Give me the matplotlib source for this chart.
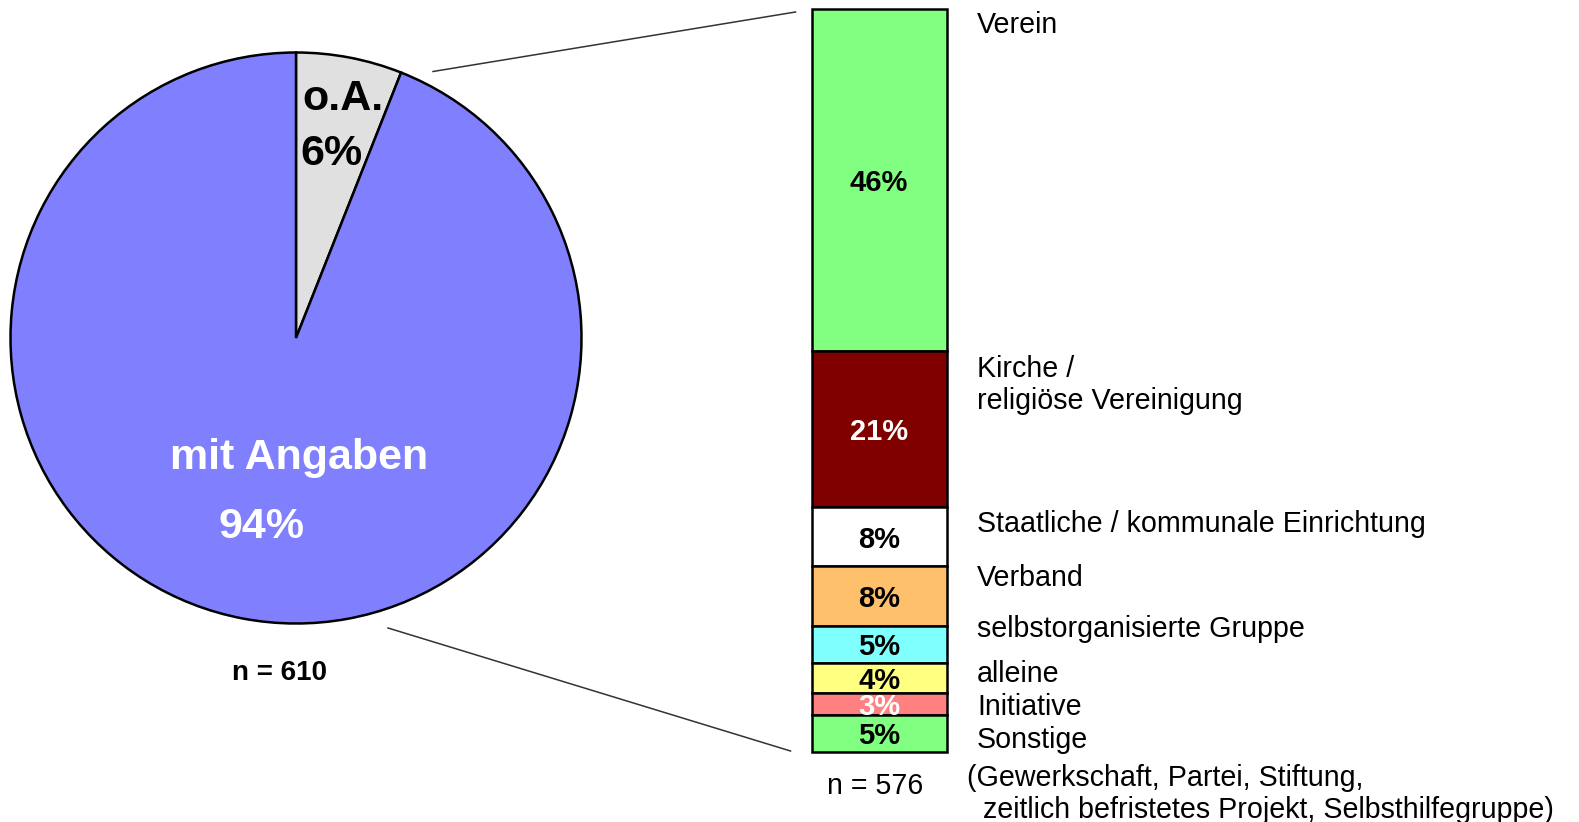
import matplotlib
matplotlib.use("Agg")
import matplotlib.pyplot as plt
import numpy as np

plt.rcParams['font.family'] = ['Liberation Sans', 'DejaVu Sans']

# Pie data
pie_labels = ["o.A.", "mit Angaben"]
pie_values = [6, 94]
pie_colors = ["#E0E0E0", "#8080FF"]

# Stacked bar data
bar_categories = ["Verein", "Kirche /\nreligiöse Vereinigung",
                  "Staatliche / kommunale Einrichtung", "Verband",
                  "selbstorganisierte Gruppe", "alleine", "Initiative", "Sonstige"]
bar_values = [46, 21, 8, 8, 5, 4, 3, 5]
bar_colors = ["#80FF80", "#800000", "#FFFFFF", "#FFC06C",
              "#80FFFF", "#FFFF80", "#FF8080", "#80FF80"]
bar_text_colors = ["black", "white", "black", "black", "black", "black", "white", "black"]
sonstige_note = "(Gewerkschaft, Partei, Stiftung,\n  zeitlich befristetes Projekt, Selbsthilfegruppe)"
n_pie = "n = 610"
n_bar = "n = 576"

W, H = 1579, 822
fig = plt.figure(figsize=(W / 100, H / 100), dpi=100)
ax = fig.add_axes([0, 0, 1, 1])

cx, cy, r = 296, 338, 285.5
ax.pie(pie_values, colors=pie_colors, startangle=-90, counterclock=True,
       center=(cx, cy), radius=r,
       wedgeprops=dict(edgecolor="black", linewidth=1.8))
ax.set_xlim(0, W)
ax.set_ylim(H, 0)
ax.set_aspect("auto")
ax.axis("off")

ax.text(343, 99, pie_labels[0], fontsize=31, fontweight="bold", ha="center", va="center")
ax.text(331, 154, f"{pie_values[0]}%", fontsize=31, fontweight="bold", ha="center", va="center")
ax.text(299, 458, pie_labels[1], fontsize=31, fontweight="bold", ha="center", va="center", color="white")
ax.text(261, 527, f"{pie_values[1]}%", fontsize=31, fontweight="bold", ha="center", va="center", color="white")
ax.text(279, 673, n_pie, fontsize=20, fontweight="bold", ha="center", va="center")

# connector lines
ax.plot([433, 795.5], [71.5, 12], color="#333333", lw=1.1)
ax.plot([388, 790.5], [628, 751], color="#333333", lw=1.1)

# Bar axes
bx0, bx1, by0, by1 = 811.6, 946.6, 9, 752
ax2 = fig.add_axes([bx0 / W, (H - by1) / H, (bx1 - bx0) / W, (by1 - by0) / H])
ax2.set_xlim(-0.5, 0.5)
ax2.set_ylim(sum(bar_values), 0)
ax2.axis("off")
bottom = 0
px_per_unit = (by1 - by0) / sum(bar_values)
for v, c, tc in zip(bar_values, bar_colors, bar_text_colors):
    ax2.bar(0, v, bottom=bottom, width=1.0, color=c, edgecolor="black",
            linewidth=1.8, clip_on=False)
    ax2.text(0, bottom + v / 2 + 3 / px_per_unit, f"{v}%", fontsize=21, fontweight="bold",
             ha="center", va="center", color=tc)
    bottom += v

# category labels
label_y = [25, 385, 524, 578, 629, 674, 707, 740]
for lab, y in zip(bar_categories, label_y):
    ax.text(977, y, lab, fontsize=20.6, ha="left", va="center", linespacing=1.15)
ax.text(967, 794, sonstige_note, fontsize=20.6, ha="left", va="center", linespacing=1.15)
ax.text(875, 786, n_bar, fontsize=20.6, ha="center", va="center")

fig.savefig("out.png", dpi=100)
